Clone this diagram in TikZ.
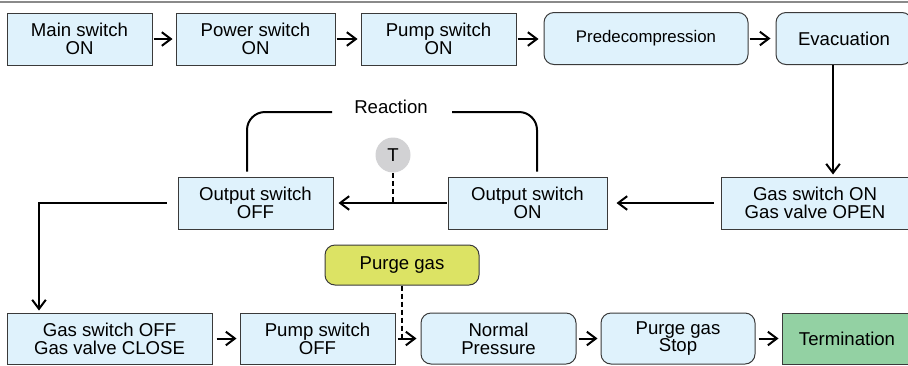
\documentclass[tikz,border=0pt]{standalone}
\usepackage{fontspec}
\setmainfont{Liberation Sans}
\usetikzlibrary{arrows.meta}
\definecolor{boxblue}{HTML}{DFF2FC}
\definecolor{boxline}{HTML}{3A3A3A}
\definecolor{purgefill}{HTML}{DCE364}
\definecolor{termfill}{HTML}{93D1A3}
\definecolor{tgray}{HTML}{D2D2D4}
\definecolor{topgray}{HTML}{8A8A8A}
\begin{document}
\begin{tikzpicture}[x=0.5pt,y=-0.5pt,
  box/.style={draw=boxline, line width=0.5pt, fill=boxblue, align=center,
    inner sep=0pt, minimum height=26pt, font=\fontsize{9.3}{8.85}\selectfont},
  rbox/.style={box, rounded corners=5pt},
  arr/.style={line width=1pt, -{Straight Barb[length=4.5pt,width=6.8pt]}},
  plain/.style={line width=1pt},
  dashline/.style={line width=0.9pt, dash pattern=on 2.5pt off 1.5pt},
  txt/.style={inner sep=0pt, font=\fontsize{9.3}{8.85}\selectfont}
]
\useasboundingbox (0,0) rectangle (908,365);
\clip (0,0) rectangle (908,365);
\draw[line width=1pt, topgray] (0,2) -- (908,2);

% Row 1
\node[box, minimum width=72.5pt] (main) at (79.5,39) {Main switch\\ON};
\node[box, minimum width=79.5pt] (power) at (255.5,39) {Power switch\\ON};
\node[box, minimum width=77.5pt] (pumpon) at (438.5,39) {Pump switch\\ON};
\node[rbox, minimum width=102pt, font=\fontsize{8.4}{8.5}\selectfont] (predec) at (646,38.5) {Predecompression};
\node[rbox, minimum width=68pt] (evac) at (844,38.5) {Evacuation};

% Row 2
\node[box, minimum width=94pt] (gason) at (815,203) {Gas switch ON\\Gas valve OPEN};
\node[box, minimum width=79.5pt] (outon) at (527.5,203) {Output switch\\ON};
\node[box, minimum width=77.5pt] (outoff) at (255.5,203) {Output switch\\OFF};
\node[circle, fill=tgray, minimum size=17.5pt, inner sep=0pt, txt] (T) at (393,155) {T};
\node[txt] (react) at (391,107) {Reaction};

% Row 3
\node[box, minimum width=102.5pt, minimum height=25.5pt] (gasoff) at (109.5,338.5) {Gas switch OFF\\Gas valve CLOSE};
\node[box, minimum width=77.5pt, minimum height=25.5pt] (pumpoff) at (317.5,338.5) {Pump switch\\OFF};
\node[rbox, minimum width=77.5pt, minimum height=25.5pt] (normal) at (498.5,338.5) {Normal\\Pressure};
\node[rbox, minimum width=77pt, minimum height=25.5pt] (pstop) at (678,338.5) {Purge gas\\Stop};
\node[box, fill=termfill, minimum width=65pt, minimum height=25.5pt] (term) at (847,338.5) {Termination};
\node[rbox, fill=purgefill, minimum width=77pt, minimum height=20pt] (purge) at (402,265) {Purge gas};

% Row 1 arrows
\draw[arr, shorten <=0.5pt, shorten >=1.5pt] (main) -- (power);
\draw[arr, shorten <=0.5pt, shorten >=1.5pt] (power) -- (pumpon);
\draw[arr, shorten <=0.5pt, shorten >=2.5pt] (pumpon) -- (pumpon -| predec.west);
\draw[arr, shorten <=0.5pt, shorten >=2.5pt] (predec) -- (evac);

% Evacuation down
\coordinate (evx) at (833,0);
\draw[arr, shorten >=1pt] (evac.south -| evx) -- (gason.north -| evx);

% Row 2 arrows
\draw[arr, shorten <=3.5pt, shorten >=4.5pt] (gason) -- (outon);
\draw[arr, shorten <=0.5pt, shorten >=2.5pt] (outon) -- (outoff);
\draw[dashline] (T.south) -- (T.south |- outon.west);

% Reaction loop
\coordinate (rl) at (247,112);
\coordinate (rr) at (537,112);
\coordinate (rlend) at (332,112);
\coordinate (rrend) at (452,112);
\draw[plain, rounded corners=9pt] ([yshift=2.5pt]outoff.north -| rl) -- (rl) -- (rlend);
\draw[plain, rounded corners=9pt] (rrend) -- (rr) -- ([yshift=2.5pt]outon.north -| rr);

% Down to row 3
\coordinate (dx) at (39,0);
\draw[arr, shorten >=1pt] ([xshift=-5.5pt]outoff.west) -| (gasoff.north -| dx);

% Row 3 arrows
\draw[arr, shorten <=2pt, shorten >=1.5pt] (gasoff) -- (pumpoff);
\draw[arr, shorten <=1pt, shorten >=2pt] (pumpoff) -- (normal);
\draw[arr, shorten <=1pt, shorten >=1.5pt] (normal) -- (pstop);
\draw[arr, shorten <=1.5pt, shorten >=1.5pt] (pstop) -- (term);
\draw[dashline] (purge.south) -- (purge.south |- pumpoff.east);
\end{tikzpicture}
\end{document}
